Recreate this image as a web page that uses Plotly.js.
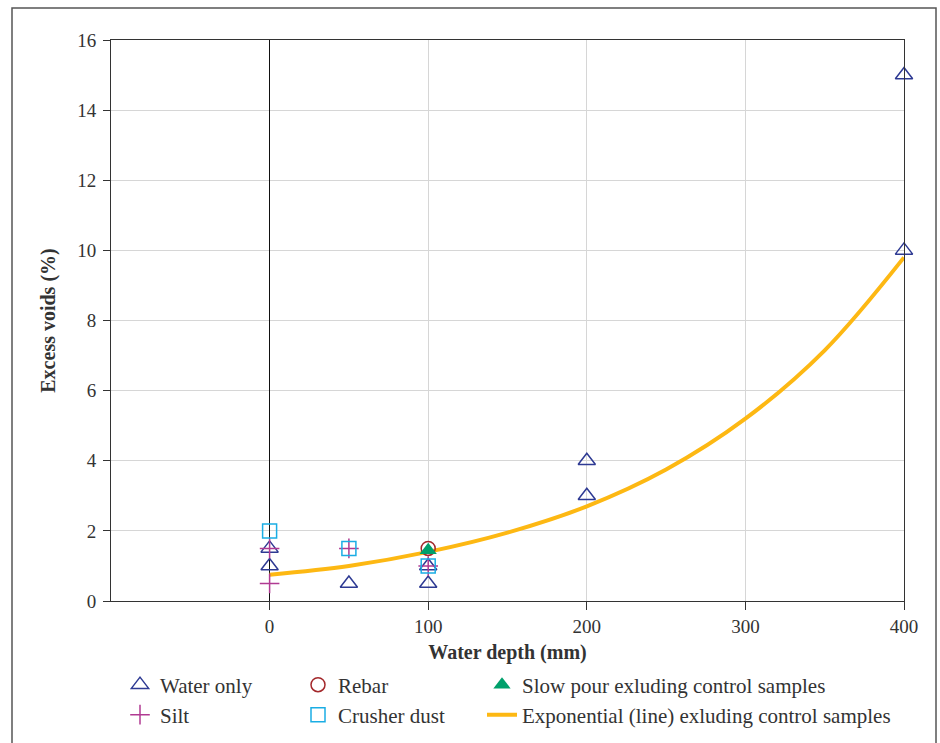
<!DOCTYPE html>
<html>
<head>
<meta charset="utf-8">
<script src="https://cdn.plot.ly/plotly-3.0.1.min.js"></script>
<style>html,body{margin:0;padding:0;background:#fff;}#chart{width:940px;height:743px;}</style>
</head>
<body>
<div id="chart"></div>
<script>
// Data
const waterX = [0, 0, 50, 100, 100, 200, 200, 400, 400];
const waterY = [1.5, 1.0, 0.5, 0.5, 1.0, 4.0, 3.0, 10.0, 15.0];
const rebarX = [100];
const rebarY = [1.5];
const slowX = [100];
const slowY = [1.45];
const siltX = [0, 0, 50, 100];
const siltY = [1.5, 0.5, 1.5, 1.0];
const dustX = [0, 50, 100];
const dustY = [2.0, 1.5, 1.0];
const expX = [0, 50, 100, 150, 200, 250, 300, 350, 400];
const expY = [0.75, 1.0, 1.4, 1.95, 2.7, 3.75, 5.2, 7.15, 9.8];
const xTicks = [0, 100, 200, 300, 400];
const yTicks = [0, 2, 4, 6, 8, 10, 12, 14, 16];

const FONT = 'Liberation Serif, Times New Roman, serif';
const TXT = '#333333';

const traces = [
  {x: expX, y: expY, type: 'scatter', mode: 'lines', name: 'Exponential (line) exluding control samples',
   line: {color: '#FDB813', width: 4, shape: 'spline'}, legend: 'legend4', cliponaxis: false},
  {x: waterX, y: waterY, type: 'scatter', mode: 'markers', name: 'Water only', cliponaxis: false,
   marker: {symbol: 'triangle-up-open', size: 15, color: '#2E3A93', line: {width: 1.5}}, legend: 'legend', legendrank: 1},
  {x: rebarX, y: rebarY, type: 'scatter', mode: 'markers', name: 'Rebar', cliponaxis: false,
   marker: {symbol: 'circle-open', size: 14, color: '#A3282B', line: {width: 1.5}}, legend: 'legend', legendrank: 2},
  {x: slowX, y: slowY, type: 'scatter', mode: 'markers', name: 'Slow pour exluding control samples', cliponaxis: false,
   marker: {symbol: 'triangle-up', size: 15, color: '#00A06B'}, legend: 'legend3'},
  {x: siltX, y: siltY, type: 'scatter', mode: 'markers', name: 'Silt', cliponaxis: false,
   marker: {symbol: 'cross-thin-open', size: 14, color: '#B03A92', line: {width: 1.5}}, legend: 'legend2', legendrank: 1},
  {x: dustX, y: dustY, type: 'scatter', mode: 'markers', name: 'Crusher dust', cliponaxis: false,
   marker: {symbol: 'square-open', size: 14, color: '#1AADE4', line: {width: 1.5}}, legend: 'legend2', legendrank: 2}
];

const legendBase = {
  orientation: 'h', xanchor: 'left', yanchor: 'middle', xref: 'container', yref: 'container',
  font: {family: FONT, size: 21, color: TXT},
  bgcolor: 'rgba(0,0,0,0)', borderwidth: 0, traceorder: 'normal'
};
const W = 940, H = 743;
const row1Y = 1 - 685 / H;
const row2Y = 1 - 715 / H;
const col1X = 120 / W;
const col3X = 482 / W;

const layout = {
  width: W, height: H,
  margin: {l: 111, r: 36, t: 40, b: 142, autoexpand: false},
  paper_bgcolor: '#fff', plot_bgcolor: '#fff',
  font: {family: FONT, size: 19, color: TXT},
  showlegend: true,
  legend: Object.assign({}, legendBase, {x: col1X, y: row1Y, entrywidth: 133, entrywidthmode: 'pixels'}),
  legend2: Object.assign({}, legendBase, {x: col1X, y: row2Y, entrywidth: 133, entrywidthmode: 'pixels'}),
  legend3: Object.assign({}, legendBase, {x: col3X, y: row1Y}),
  legend4: Object.assign({}, legendBase, {x: col3X, y: row2Y}),
  xaxis: {
    range: [-100, 400], tickvals: xTicks, ticktext: xTicks.map(String),
    showgrid: true, gridcolor: '#d6d6d6', gridwidth: 1,
    zeroline: true, zerolinecolor: '#111', zerolinewidth: 1,
    showline: true, linecolor: '#333', linewidth: 1, mirror: true,
    ticks: 'outside', ticklen: 8, tickcolor: '#333',
    tickfont: {family: FONT, size: 19, color: TXT},
    title: {text: '<b>Water depth (mm)</b>', font: {family: FONT, size: 20, color: TXT}, standoff: 12}
  },
  yaxis: {
    range: [0, 16], tickvals: yTicks, ticktext: yTicks.map(String),
    showgrid: true, gridcolor: '#d6d6d6', gridwidth: 1,
    zeroline: false,
    showline: true, linecolor: '#333', linewidth: 1, mirror: true,
    ticks: 'outside', ticklen: 7, tickcolor: '#333', ticklabelstandoff: 3,
    tickfont: {family: FONT, size: 19, color: TXT},
    title: {text: '<b>Excess voids (%)</b>', font: {family: FONT, size: 20, color: TXT}, standoff: 16}
  },
  shapes: [
    {type: 'rect', xref: 'paper', yref: 'paper', x0: (12 - 111) / 793, x1: (936 - 111) / 793,
     y0: (601 - 760) / 561, y1: (601 - 8) / 561, line: {color: '#555', width: 1.5}, fillcolor: 'rgba(0,0,0,0)', layer: 'below'}
  ]
};

Plotly.newPlot('chart', traces, layout, {displayModeBar: false, staticPlot: true});
</script>
</body>
</html>
